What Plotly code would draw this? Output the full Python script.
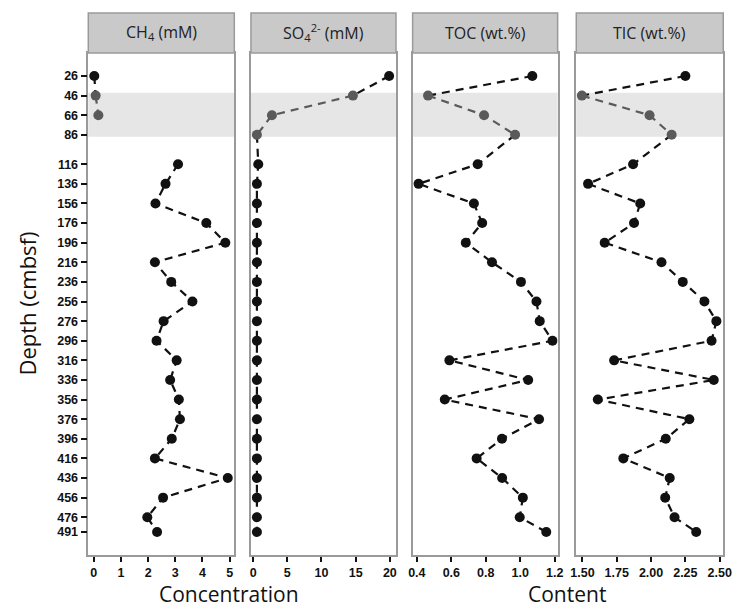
import plotly.graph_objects as go

depth = [26, 46, 66, 86, 116, 136, 156, 176, 196, 216, 236, 256, 276, 296,
         316, 336, 356, 376, 396, 416, 436, 456, 476, 491]

ch4 = [0.02, 0.07, 0.17, None, 3.1, 2.64, 2.27, 4.14, 4.84, 2.25, 2.85, 3.63,
       2.57, 2.31, 3.05, 2.81, 3.13, 3.17, 2.87, 2.25, 4.93, 2.55, 1.97, 2.33]
so4 = [19.9, 14.6, 2.75, 0.55, 0.75, 0.55, 0.55, 0.55, 0.55, 0.55, 0.55, 0.55,
       0.55, 0.55, 0.55, 0.55, 0.55, 0.55, 0.55, 0.55, 0.55, 0.55, 0.55, 0.55]
toc = [1.07, 0.465, 0.79, 0.97, 0.753, 0.41, 0.731, 0.779, 0.684, 0.836, 1.004,
       1.094, 1.113, 1.187, 0.589, 1.046, 0.562, 1.109, 0.894, 0.747, 0.895,
       1.015, 0.997, 1.151]
tic = [2.25, 1.496, 1.989, 2.15, 1.869, 1.541, 1.921, 1.876, 1.662, 2.076, 2.231,
       2.389, 2.476, 2.441, 1.731, 2.457, 1.612, 2.279, 2.107, 1.798, 2.136,
       2.103, 2.171, 2.329]

panel_titles = ["CH<sub>4</sub> (mM)", "SO<sub>4</sub><sup>2-</sup> (mM)",
                "TOC (wt.%)", "TIC (wt.%)"]
series = [ch4, so4, toc, tic]
xticks = [[0, 1, 2, 3, 4, 5], [0, 5, 10, 15, 20], [0.4, 0.6, 0.8, 1.0, 1.2],
          [1.50, 1.75, 2.00, 2.25, 2.50]]
xticktext = [["0", "1", "2", "3", "4", "5"], ["0", "5", "10", "15", "20"],
             ["0.4", "0.6", "0.8", "1.0", "1.2"],
             ["1.50", "1.75", "2.00", "2.25", "2.50"]]
xranges = [[-0.2, 5.17], [-0.32, 20.9], [0.3756, 1.217], [1.455, 2.526]]
band = [43, 88]
band_idx = [1, 2, 3]

W, H = 744, 607
px_dom = [(84, 233), (250, 398), (415, 563), (582, 732)]
ytop, ybot = 53, 555
ydom = [1 - ybot / H, 1 - ytop / H]

fig = go.Figure()
dark = "#111111"
grey = "#5a5a5a"
tfont = dict(family="Liberation Sans", size=12.5, color="#111", weight="bold")
for i, vals in enumerate(series):
    xa = "x" if i == 0 else f"x{i+1}"
    ya = "y" if i == 0 else f"y{i+1}"
    segs = [(0, 2, dark), (1, 4, grey), (3, len(depth), dark)]
    for a, b, c in segs:
        fig.add_trace(go.Scatter(x=vals[a:b], y=depth[a:b], mode="lines",
                                 line=dict(color=c, width=2.2, dash="8px,6px"),
                                 connectgaps=False, showlegend=False,
                                 xaxis=xa, yaxis=ya, hoverinfo="skip"))
    cols = [grey if k in band_idx else dark for k in range(len(depth))]
    fig.add_trace(go.Scatter(x=vals, y=depth, mode="markers",
                             marker=dict(color=cols, size=10),
                             showlegend=False, xaxis=xa, yaxis=ya))

    d0, d1 = px_dom[i]
    xkey = "xaxis" if i == 0 else f"xaxis{i+1}"
    ykey = "yaxis" if i == 0 else f"yaxis{i+1}"
    fig.layout[xkey] = dict(domain=[d0 / W, d1 / W], anchor=ya, range=xranges[i],
                            tickvals=xticks[i], ticktext=xticktext[i],
                            showgrid=False, zeroline=False, showline=True,
                            mirror=True, linecolor="#9a9a9a", linewidth=1.5,
                            ticks="outside", ticklen=5, tickwidth=2,
                            tickcolor="#111", tickfont=tfont)
    fig.layout[ykey] = dict(domain=ydom, anchor=xa, range=[514.5, 2.55],
                            showgrid=False, zeroline=False, showline=True,
                            mirror=True, linecolor="#9a9a9a", linewidth=1.5,
                            showticklabels=(i == 0),
                            tickvals=depth if i == 0 else [],
                            ticktext=[str(d) for d in depth],
                            ticks="outside" if i == 0 else "", ticklen=6,
                            tickwidth=2, tickcolor="#111", tickfont=tfont)
    # shaded band
    fig.add_shape(type="rect", xref=f"{xa} domain", yref=ya, x0=0, x1=1,
                  y0=band[0], y1=band[1], fillcolor="#e6e6e6", line_width=0,
                  layer="below")
    # header strip
    fig.add_shape(type="rect", xref="paper", yref="paper",
                  x0=d0 / W, x1=d1 / W, y0=1 - 53 / H, y1=1 - 13 / H,
                  fillcolor="#c9c9c9", line=dict(color="#9a9a9a", width=1.5))
    fig.add_annotation(text=panel_titles[i], xref="paper", yref="paper",
                       x=(d0 + d1) / 2 / W, y=1 - 33 / H, showarrow=False,
                       font=dict(family="Open Sans", size=16, color="#222"),
                       xanchor="center", yanchor="middle")

fig.add_annotation(text="Depth (cmbsf)", xref="paper", yref="paper",
                   x=21 / W, y=1 - 304 / H, textangle=-90, showarrow=False,
                   font=dict(family="Open Sans", size=22, color="#111"),
                   xanchor="center", yanchor="middle")
fig.add_annotation(text="Concentration", xref="paper", yref="paper",
                   x=228 / W, y=1 - 594 / H, showarrow=False,
                   font=dict(family="Open Sans", size=21, color="#111"),
                   xanchor="center", yanchor="middle")
fig.add_annotation(text="Content", xref="paper", yref="paper",
                   x=573 / W, y=1 - 594 / H, showarrow=False,
                   font=dict(family="Open Sans", size=21, color="#111"),
                   xanchor="center", yanchor="middle")

fig.update_layout(width=W, height=H, margin=dict(l=0, r=0, t=0, b=0),
                  paper_bgcolor="white", plot_bgcolor="white")
fig.write_html("out.html")
